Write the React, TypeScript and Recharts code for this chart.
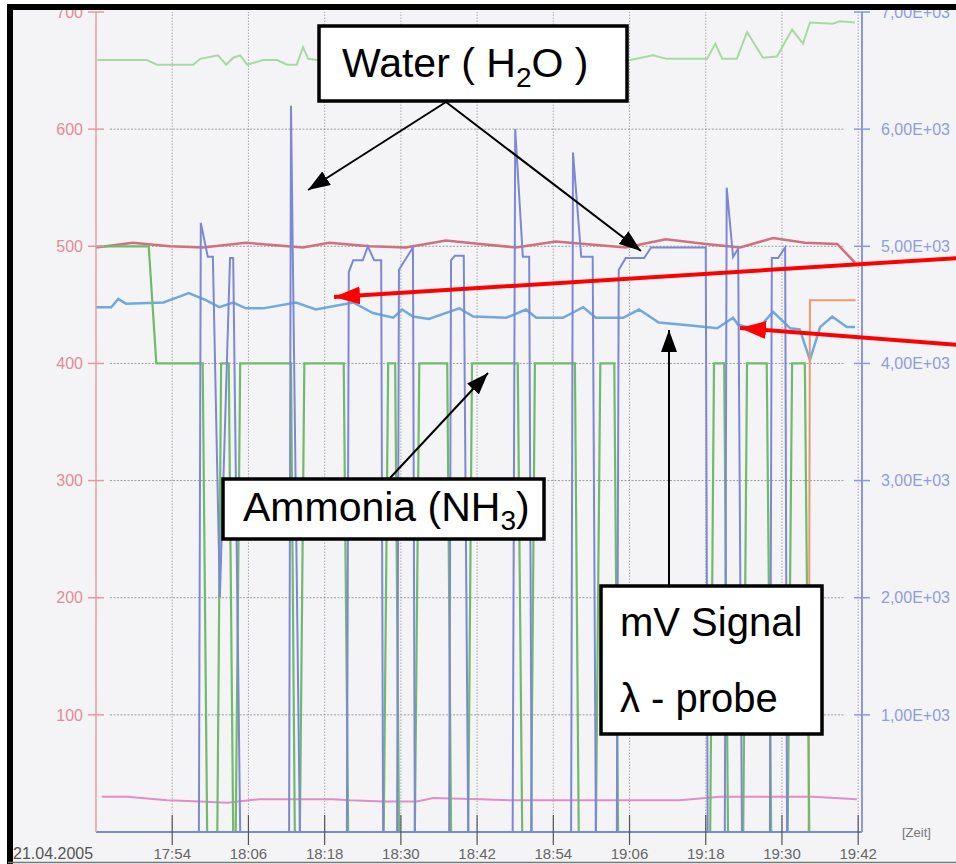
import React from "react";
import { LineChart, Line, XAxis, YAxis, ReferenceLine } from "recharts";

// minutes after 17:42 -> value
const TIME_TICKS = [12, 24, 36, 48, 60, 72, 84, 96, 108, 120];
const TIME_LABELS = ["17:54", "18:06", "18:18", "18:30", "18:42", "18:54", "19:06", "19:18", "19:30", "19:42"];
const LEFT_TICKS = [100, 200, 300, 400, 500, 600, 700];
const RIGHT_TICKS = [1000, 2000, 3000, 4000, 5000, 6000, 7000];
const RIGHT_LABELS = ["1,00E+03", "2,00E+03", "3,00E+03", "4,00E+03", "5,00E+03", "6,00E+03", "7,00E+03"];

// mV signal, right axis
const signal: [number, number][] = [
  [0, 0], [16.2, 0], [16.5, 5200], [17.6, 4910], [18.4, 4910], [19.5, 2000], [21.1, 4900], [21.6, 4900], [22.7, 0],
  [30.4, 0], [30.7, 6200], [32.1, 0], [39.5, 0], [39.8, 4780], [40.5, 4880], [42.0, 4880], [42.8, 5000], [43.8, 4880],
  [44.9, 4880], [45.2, 0], [47.4, 0], [47.7, 4800], [49.9, 4990], [50.2, 0], [55.6, 0], [55.9, 4880], [56.5, 4920],
  [57.9, 4920], [58.6, 0], [65.6, 0], [66.0, 6000], [67.2, 4910], [68.2, 4910], [68.6, 0], [74.8, 0], [75.1, 5800],
  [76.4, 4910], [78.2, 4910], [78.7, 0], [82.0, 0], [82.3, 4800], [83.4, 4900], [86.3, 4900], [87.4, 4990], [96.0, 4990],
  [96.3, 0], [99.0, 0], [99.3, 5500], [100.3, 4910], [101.1, 4980], [101.7, 0], [106.1, 0], [106.4, 4900], [107.4, 4900],
  [108.5, 4990], [108.8, 0], [120.6, 0],
];

// ammonia, left axis
const ammonia: [number, number][] = [
  [0, 500], [8.3, 500], [9.5, 400], [16.8, 400], [17.5, 0], [19.1, 0], [19.7, 400], [20.9, 400], [21.6, 0], [22.0, 0],
  [22.7, 400], [30.7, 400], [31.3, 0], [32.1, 0], [32.8, 400], [39.0, 400], [39.7, 0], [45.3, 0], [46.0, 400], [47.1, 400],
  [47.7, 0], [50.2, 0], [50.9, 400], [55.3, 400], [55.9, 0], [58.6, 0], [59.2, 400], [66.4, 400], [67.1, 0], [68.5, 0],
  [69.1, 400], [75.4, 400], [76.0, 0], [78.7, 0], [79.4, 400], [81.6, 400], [82.2, 0], [96.7, 0], [97.3, 400], [98.9, 400],
  [99.5, 0], [101.9, 0], [102.5, 400], [105.6, 400], [106.3, 0], [108.9, 0], [109.6, 400], [111.6, 400], [112.3, 0], [120.6, 0],
];

// water, left axis
const water: [number, number][] = [
  [0, 499], [5.8, 503], [11.6, 500], [16.8, 499], [23.6, 503], [32.6, 499], [36.7, 503], [43.1, 500], [48.8, 499],
  [55.1, 505], [60.5, 502], [66.1, 499], [72.4, 504], [83.4, 499], [89.7, 506], [96.0, 502], [101.4, 499], [106.6, 507],
  [111.6, 503], [116.7, 502], [119.5, 486],
];

// lambda probe, left axis
const lambda: [number, number][] = [
  [0, 448], [2.4, 448], [3.5, 455], [4.7, 451], [10.6, 452], [12.6, 456], [14.6, 460], [17.3, 454], [19.4, 448],
  [21.6, 452], [23.6, 447], [26.3, 447], [31.5, 452], [34.6, 446], [40.5, 452], [43.6, 443], [46.8, 439], [48.2, 446],
  [49.9, 440], [52.4, 438], [57.2, 447], [59.4, 440], [64.6, 439], [67.7, 446], [69.3, 439], [73.5, 439], [76.7, 448],
  [78.7, 439], [83.0, 439], [85.5, 446], [88.6, 435], [92.4, 433], [96.0, 431], [97.8, 430], [100.3, 439], [101.1, 433],
  [104.1, 429], [106.6, 444], [109.3, 430], [110.8, 429], [112.4, 403], [114.0, 431], [115.9, 440], [118.2, 431], [119.5, 431],
];

const upper: [number, number][] = [
  [0.2, 659], [8.0, 659], [9.6, 655], [15.3, 655], [16.4, 660], [19.2, 663], [20.5, 655], [21.6, 661], [22.7, 663],
  [23.8, 655], [26.3, 659], [28.5, 659], [30.1, 655], [31.6, 655], [32.6, 670], [33.4, 660], [34.8, 659], [47.9, 657],
  [63.6, 660], [79.4, 658], [84.1, 659], [87.7, 663], [89.9, 660], [96.2, 660], [97.5, 673], [98.6, 660], [100.9, 660],
  [102.5, 683], [105.0, 661], [107.2, 662], [109.6, 685], [111.3, 673], [112.4, 691], [116.0, 690], [117.1, 692], [119.5, 691],
];

const lower: [number, number][] = [
  [0.9, 30], [4.9, 30], [11.2, 27], [16.4, 26], [20.6, 25], [25.8, 28], [37.3, 28], [40.0, 27], [45.2, 26], [47.9, 26],
  [50.5, 26], [53.1, 29], [60.5, 28], [65.7, 27], [76.2, 27], [91.9, 27], [98.2, 30], [112.9, 30], [119.8, 28],
];

const orange: [number, number][] = [[112.2, 0], [112.4, 454], [119.6, 454]];

const rows = (pts: [number, number][]) => pts.map(([t, v]) => ({ t, v }));

const FONT = '"Liberation Sans", Arial, Helvetica, sans-serif';

function XTick({ x, y, payload }: any) {
  const i = TIME_TICKS.indexOf(payload.value);
  return (
    <g>
      <line x1={x} x2={x} y1={y - 17} y2={y + 13} stroke="#555" strokeWidth={1.2} />
      <text x={x} y={y + 27} textAnchor="middle" fontSize={15} fill="#666" fontFamily={FONT}>
        {TIME_LABELS[i]}
      </text>
    </g>
  );
}

function LeftTick({ x, y, payload }: any) {
  return (
    <g>
      <line x1={x - 8} x2={x + 8} y1={y} y2={y} stroke="#e398a4" strokeWidth={1.5} />
      <text x={x - 13} y={y} dy="0.36em" textAnchor="end" fontSize={16} fill="#e38b99" fontFamily={FONT}>
        {payload.value}
      </text>
    </g>
  );
}

function RightTick({ x, y, payload }: any) {
  const i = RIGHT_TICKS.indexOf(payload.value);
  return (
    <g>
      <line x1={x - 8} x2={x + 8} y1={y} y2={y} stroke="#8c98de" strokeWidth={1.5} />
      <text x={x + 19} y={y} dy="0.36em" textAnchor="start" fontSize={16} fill="#8f9ce0" fontFamily={FONT}>
        {RIGHT_LABELS[i]}
      </text>
    </g>
  );
}

export default function App() {
  return (
    <div style={{ position: "absolute", left: 0, top: 0, width: 956, height: 864, background: "#fff", overflow: "hidden" }}>
      <div style={{ position: "absolute", left: 13, top: 10, width: 943, height: 852, background: "#f4f4f6" }} />
      <div style={{ position: "absolute", left: 0, top: 0 }}>
        <LineChart width={956} height={864} margin={{ top: 12, right: 0, bottom: 0, left: 0 }}>
          <XAxis
            dataKey="t"
            type="number"
            domain={[0, 120.6]}
            ticks={TIME_TICKS}
            tickSize={0}
            tickMargin={0}
            height={32}
            axisLine={{ stroke: "#7d88d4", strokeWidth: 2 }}
            tick={<XTick />}
            allowDataOverflow
          />
          <YAxis
            yAxisId="l"
            orientation="left"
            width={96}
            domain={[0, 700]}
            ticks={LEFT_TICKS}
            tickSize={0}
            tickMargin={0}
            axisLine={{ stroke: "#e6a0aa", strokeWidth: 1.5 }}
            tick={<LeftTick />}
          />
          <YAxis
            yAxisId="r"
            orientation="right"
            width={94}
            domain={[0, 7000]}
            ticks={RIGHT_TICKS}
            tickSize={0}
            tickMargin={0}
            axisLine={{ stroke: "#8c98de", strokeWidth: 2 }}
            tick={<RightTick />}
          />
          {TIME_TICKS.map((t) => (
            <ReferenceLine key={"v" + t} x={t} yAxisId="l" stroke="#8a8a8a" strokeOpacity={0.7} strokeDasharray="1.5 1.5" />
          ))}
          {LEFT_TICKS.slice(0, 6).map((v) => (
            <ReferenceLine
              key={"h" + v}
              yAxisId="l"
              segment={[{ x: 2.2, y: v }, { x: 117.9, y: v }]}
              stroke="#777"
              strokeOpacity={0.7}
              strokeDasharray="2 1.5"
            />
          ))}
          <Line data={rows(upper)} dataKey="v" yAxisId="l" stroke="#a6d9a3" strokeWidth={2} dot={false} activeDot={false} isAnimationActive={false} />
          <Line data={rows(lower)} dataKey="v" yAxisId="l" stroke="#e48cc7" strokeWidth={2} dot={false} activeDot={false} isAnimationActive={false} />
          <Line data={rows(water)} dataKey="v" yAxisId="l" stroke="#d0707f" strokeWidth={2.5} dot={false} activeDot={false} isAnimationActive={false} />
          <Line data={rows(lambda)} dataKey="v" yAxisId="l" stroke="#6fa9e0" strokeWidth={2.5} dot={false} activeDot={false} isAnimationActive={false} />
          <Line data={rows(orange)} dataKey="v" yAxisId="l" stroke="#eb9a6e" strokeWidth={2} dot={false} activeDot={false} isAnimationActive={false} />
          <Line data={rows(ammonia)} dataKey="v" yAxisId="l" stroke="#6fbb6a" strokeWidth={2.2} dot={false} activeDot={false} isAnimationActive={false} />
          <Line data={rows(signal)} dataKey="v" yAxisId="r" stroke="#7d88d4" strokeWidth={2} dot={false} activeDot={false} isAnimationActive={false} />
        </LineChart>
      </div>
      <svg width={956} height={864} style={{ position: "absolute", left: 0, top: 0, pointerEvents: "none" }}>
        <defs>
          <marker id="ah" viewBox="0 0 22 16" refX={22} refY={8} markerWidth={22} markerHeight={16} markerUnits="userSpaceOnUse" orient="auto">
            <path d="M0,0 L22,8 L0,16 z" fill="#000" />
          </marker>
          <marker id="ahRed" viewBox="0 0 26 18" refX={26} refY={9} markerWidth={26} markerHeight={18} markerUnits="userSpaceOnUse" orient="auto">
            <path d="M0,0 L26,9 L0,18 z" fill="#ff0000" />
          </marker>
        </defs>

        <text x={13} y={859} fontSize={16} fill="#555" fontFamily={FONT}>21.04.2005</text>
        <text x={902} y={837} fontSize={13} fill="#777" fontFamily={FONT}>[Zeit]</text>

        <line x1={446} y1={102} x2={308} y2={190} stroke="#000" strokeWidth={2} markerEnd="url(#ah)" />
        <line x1={446} y1={102} x2={641} y2={251} stroke="#000" strokeWidth={2} markerEnd="url(#ah)" />
        <line x1={390} y1={478} x2={488} y2={373} stroke="#000" strokeWidth={2} markerEnd="url(#ah)" />
        <line x1={669} y1={585} x2={669} y2={330} stroke="#000" strokeWidth={2} markerEnd="url(#ah)" />
        <line x1={960} y1={258} x2={334} y2={297} stroke="#ff0000" strokeWidth={4} markerEnd="url(#ahRed)" />
        <line x1={960} y1={345} x2={740} y2={328} stroke="#ff0000" strokeWidth={4} markerEnd="url(#ahRed)" />

        <rect x={319} y={26} width={308} height={75} fill="#fff" stroke="#000" strokeWidth={3.5} />
        <text x={342} y={77} fontSize={41} fill="#000" fontFamily={FONT}>
          Water ( H<tspan fontSize={28} dy={10}>2</tspan><tspan dy={-10}>O )</tspan>
        </text>

        <rect x={223} y={479} width={321} height={60} fill="#fff" stroke="#000" strokeWidth={3.5} />
        <text x={243} y={521} fontSize={41} fill="#000" fontFamily={FONT}>
          Ammonia (NH<tspan fontSize={28} dy={9}>3</tspan><tspan dy={-9}>)</tspan>
        </text>

        <rect x={601} y={586} width={221} height={148} fill="#fff" stroke="#000" strokeWidth={3.5} />
        <text x={620} y={636} fontSize={40} fill="#000" fontFamily={FONT}>mV Signal</text>
        <text x={620} y={712} fontSize={40} fill="#000" fontFamily={FONT}>λ - probe</text>

        <rect x={7} y={4} width={6} height={860} fill="#000" />
        <rect x={7} y={4} width={949} height={6} fill="#000" />
        <line x1={8} x2={956} y1={862.5} y2={862.5} stroke="#777" strokeWidth={1.5} />
      </svg>
    </div>
  );
}
